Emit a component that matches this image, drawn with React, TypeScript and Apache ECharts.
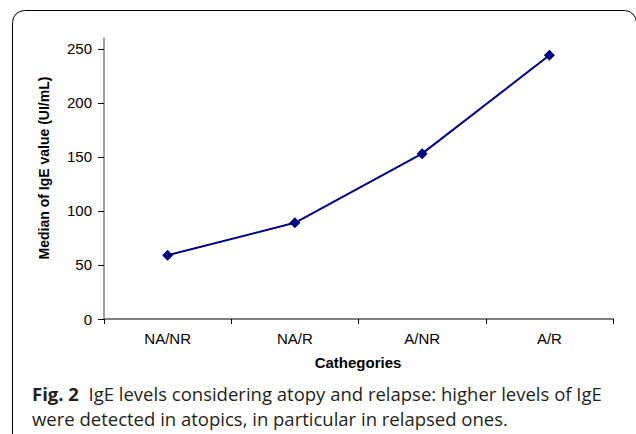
import React, { useEffect, useRef } from "react";
import * as echarts from "echarts";

const categories = ["NA/NR", "NA/R", "A/NR", "A/R"];
const medianIgE = [59, 89, 153, 244];
const yTicks = [0, 50, 100, 150, 200, 250];
const yAxisTitle = "Median of IgE value (UI/mL)";
const xAxisTitle = "Cathegories";
const captionBold = "Fig. 2";
const captionLine1 = "IgE levels considering atopy and relapse: higher levels of IgE";
const captionLine2 = "were detected in atopics, in particular in relapsed ones.";

export default function App() {
  const ref = useRef<HTMLDivElement>(null);
  useEffect(() => {
    if (!ref.current) return;
    const chart = echarts.init(ref.current, null, { renderer: "svg" });
    chart.setOption({
      animation: false,
      backgroundColor: "#ffffff",
      grid: { left: 104, right: 23, top: 38, bottom: 115 },
      xAxis: {
        type: "category",
        data: categories,
        boundaryGap: true,
        axisLine: { lineStyle: { color: "#808080", width: 2 } },
        axisTick: { show: true, length: 5, inside: false, lineStyle: { color: "#000", width: 1 } },
        axisLabel: { color: "#000", fontFamily: "Liberation Sans, Arial", fontSize: 15, margin: 12 },
        splitLine: { show: false },
      },
      yAxis: {
        type: "value",
        min: 0,
        max: 260,
        interval: 10,
        axisLine: { show: true, lineStyle: { color: "#808080", width: 1.5 } },
        axisTick: { show: true, length: 6, customValues: yTicks, lineStyle: { color: "#000" } },
        axisLabel: { color: "#000", fontFamily: "Liberation Sans, Arial", fontSize: 15, margin: 12, customValues: yTicks },
        splitLine: { show: false },
      },
      series: [
        {
          type: "line",
          data: medianIgE,
          symbol: "diamond",
          symbolSize: 11,
          itemStyle: { color: "#000080" },
          lineStyle: { color: "#000080", width: 2 },
        },
      ],
      graphic: [
        {
          type: "rect",
          shape: { x: 12.5, y: 10.5, width: 624, height: 440, r: 12 },
          style: { fill: "none", stroke: "#000", lineWidth: 1 },
          silent: true,
        },
        {
          type: "text",
          x: 44,
          y: 168,
          rotation: Math.PI / 2,
          style: {
            text: yAxisTitle,
            fontFamily: "Liberation Sans, Arial",
            fontWeight: "bold",
            fontSize: 14,
            fill: "#000",
            align: "center",
            verticalAlign: "middle",
          },
        },
        {
          type: "text",
          x: 358,
          y: 362,
          style: {
            text: xAxisTitle,
            fontFamily: "Liberation Sans, Arial",
            fontWeight: "bold",
            fontSize: 15,
            fill: "#000",
            align: "center",
            verticalAlign: "middle",
          },
        },
        {
          type: "text",
          x: 32,
          y: 381,
          style: {
            text: "{b|" + captionBold + "}  " + captionLine1 + "\n" + captionLine2,
            fontFamily: "Open Sans, Noto Sans, sans-serif",
            fontSize: 18.5,
            lineHeight: 25,
            fill: "#231f20",
            verticalAlign: "top",
            rich: {
              b: { fontWeight: "bold", fontSize: 18.5, lineHeight: 25, fontFamily: "Open Sans, Noto Sans, sans-serif", fill: "#231f20" },
            },
          },
        },
      ],
    });
    return () => chart.dispose();
  }, []);
  return (
    <div
      ref={ref}
      style={{ position: "fixed", left: 0, top: 0, width: 636, height: 434, background: "#fff" }}
    />
  );
}
